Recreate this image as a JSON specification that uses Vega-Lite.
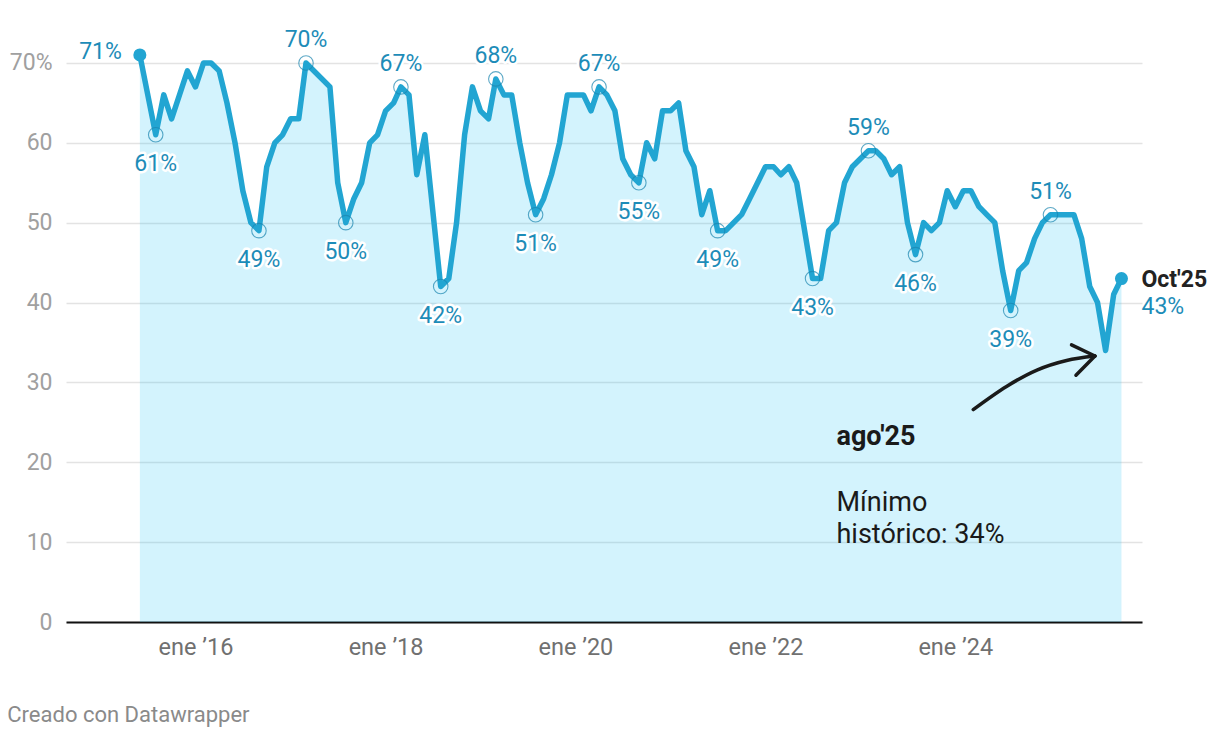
{
  "$schema": "https://vega.github.io/schema/vega-lite/v6.json",
  "autosize": "none",
  "width": 1076,
  "height": 599,
  "padding": {"left": 66, "top": 23, "right": 78, "bottom": 116},
  "background": "white",
  "config": {"view": {"stroke": null}, "font": "Roboto"},
  "title": {"text": "Creado con Datawrapper", "orient": "bottom", "anchor": "start", "frame": "bounds", "offset": 46, "fontSize": 22, "font": "Roboto", "fontWeight": "normal", "color": "#8a8a8a", "dx": -2},
  "datasets": {
    "main": [
      {"d": "2015-06-01", "v": 71, "k": "first"},
      {"d": "2015-08-01", "v": 61, "k": "min"},
      {"d": "2015-09-01", "v": 66},
      {"d": "2015-10-01", "v": 63},
      {"d": "2015-12-01", "v": 69},
      {"d": "2016-01-01", "v": 67},
      {"d": "2016-02-01", "v": 70},
      {"d": "2016-03-01", "v": 70},
      {"d": "2016-04-01", "v": 69},
      {"d": "2016-05-01", "v": 65},
      {"d": "2016-06-01", "v": 60},
      {"d": "2016-07-01", "v": 54},
      {"d": "2016-08-01", "v": 50},
      {"d": "2016-09-01", "v": 49, "k": "min"},
      {"d": "2016-10-01", "v": 57},
      {"d": "2016-11-01", "v": 60},
      {"d": "2016-12-01", "v": 61},
      {"d": "2017-01-01", "v": 63},
      {"d": "2017-02-01", "v": 63},
      {"d": "2017-03-01", "v": 70, "k": "max"},
      {"d": "2017-06-01", "v": 67},
      {"d": "2017-07-01", "v": 55},
      {"d": "2017-08-01", "v": 50, "k": "min"},
      {"d": "2017-09-01", "v": 53},
      {"d": "2017-10-01", "v": 55},
      {"d": "2017-11-01", "v": 60},
      {"d": "2017-12-01", "v": 61},
      {"d": "2018-01-01", "v": 64},
      {"d": "2018-02-01", "v": 65},
      {"d": "2018-03-01", "v": 67, "k": "max"},
      {"d": "2018-04-01", "v": 66},
      {"d": "2018-05-01", "v": 56},
      {"d": "2018-06-01", "v": 61},
      {"d": "2018-08-01", "v": 42, "k": "min"},
      {"d": "2018-09-01", "v": 43},
      {"d": "2018-10-01", "v": 50},
      {"d": "2018-11-01", "v": 61},
      {"d": "2018-12-01", "v": 67},
      {"d": "2019-01-01", "v": 64},
      {"d": "2019-02-01", "v": 63},
      {"d": "2019-03-01", "v": 68, "k": "max"},
      {"d": "2019-04-01", "v": 66},
      {"d": "2019-05-01", "v": 66},
      {"d": "2019-06-01", "v": 60},
      {"d": "2019-07-01", "v": 55},
      {"d": "2019-08-01", "v": 51, "k": "min"},
      {"d": "2019-09-01", "v": 53},
      {"d": "2019-10-01", "v": 56},
      {"d": "2019-11-01", "v": 60},
      {"d": "2019-12-01", "v": 66},
      {"d": "2020-01-01", "v": 66},
      {"d": "2020-02-01", "v": 66},
      {"d": "2020-03-01", "v": 64},
      {"d": "2020-04-01", "v": 67, "k": "max"},
      {"d": "2020-05-01", "v": 66},
      {"d": "2020-06-01", "v": 64},
      {"d": "2020-07-01", "v": 58},
      {"d": "2020-08-01", "v": 56},
      {"d": "2020-09-01", "v": 55, "k": "min"},
      {"d": "2020-10-01", "v": 60},
      {"d": "2020-11-01", "v": 58},
      {"d": "2020-12-01", "v": 64},
      {"d": "2021-01-01", "v": 64},
      {"d": "2021-02-01", "v": 65},
      {"d": "2021-03-01", "v": 59},
      {"d": "2021-04-01", "v": 57},
      {"d": "2021-05-01", "v": 51},
      {"d": "2021-06-01", "v": 54},
      {"d": "2021-07-01", "v": 49, "k": "min"},
      {"d": "2021-08-01", "v": 49},
      {"d": "2021-10-01", "v": 51},
      {"d": "2021-11-01", "v": 53},
      {"d": "2022-01-01", "v": 57},
      {"d": "2022-02-01", "v": 57},
      {"d": "2022-03-01", "v": 56},
      {"d": "2022-04-01", "v": 57},
      {"d": "2022-05-01", "v": 55},
      {"d": "2022-07-01", "v": 43, "k": "min"},
      {"d": "2022-08-01", "v": 43},
      {"d": "2022-09-01", "v": 49},
      {"d": "2022-10-01", "v": 50},
      {"d": "2022-11-01", "v": 55},
      {"d": "2022-12-01", "v": 57},
      {"d": "2023-01-01", "v": 58},
      {"d": "2023-02-01", "v": 59, "k": "max"},
      {"d": "2023-03-01", "v": 59},
      {"d": "2023-04-01", "v": 58},
      {"d": "2023-05-01", "v": 56},
      {"d": "2023-06-01", "v": 57},
      {"d": "2023-07-01", "v": 50},
      {"d": "2023-08-01", "v": 46, "k": "min"},
      {"d": "2023-09-01", "v": 50},
      {"d": "2023-10-01", "v": 49},
      {"d": "2023-11-01", "v": 50},
      {"d": "2023-12-01", "v": 54},
      {"d": "2024-01-01", "v": 52},
      {"d": "2024-02-01", "v": 54},
      {"d": "2024-03-01", "v": 54},
      {"d": "2024-04-01", "v": 52},
      {"d": "2024-05-01", "v": 51},
      {"d": "2024-06-01", "v": 50},
      {"d": "2024-07-01", "v": 44},
      {"d": "2024-08-01", "v": 39, "k": "min"},
      {"d": "2024-09-01", "v": 44},
      {"d": "2024-10-01", "v": 45},
      {"d": "2024-11-01", "v": 48},
      {"d": "2024-12-01", "v": 50},
      {"d": "2025-01-01", "v": 51, "k": "max"},
      {"d": "2025-02-01", "v": 51},
      {"d": "2025-03-01", "v": 51},
      {"d": "2025-04-01", "v": 51},
      {"d": "2025-05-01", "v": 48},
      {"d": "2025-06-01", "v": 42},
      {"d": "2025-07-01", "v": 40},
      {"d": "2025-08-01", "v": 34},
      {"d": "2025-09-01", "v": 41},
      {"d": "2025-10-01", "v": 43, "k": "last"}
    ],
    "arrow": [
      {"s": "curve", "d": "2024-03-10", "v": 26.6},
      {"s": "curve", "d": "2024-07-16", "v": 29.5},
      {"s": "curve", "d": "2024-11-10", "v": 31.55},
      {"s": "curve", "d": "2025-03-04", "v": 32.75},
      {"s": "curve", "d": "2025-06-21", "v": 33.3},
      {"s": "arm1", "d": "2025-03-23", "v": 34.7},
      {"s": "arm1", "d": "2025-06-21", "v": 33.3},
      {"s": "arm2", "d": "2025-04-09", "v": 30.9},
      {"s": "arm2", "d": "2025-06-21", "v": 33.3}
    ],
    "notes": [
      {"d": "2022-10-01", "v": 23.2, "t": "ago'25", "k": "head"},
      {"d": "2022-10-01", "v": 14.9, "t": "Mínimo", "k": "body"},
      {"d": "2022-10-01", "v": 10.9, "t": "histórico: 34%", "k": "body"}
    ]
  },
  "encoding": {
    "x": {
      "field": "d", "type": "temporal", "title": null,
      "scale": {"type": "utc", "domain": [{"year": 2014, "month": 8, "date": 21, "utc": true}, {"year": 2025, "month": 12, "date": 19, "utc": true}]},
      "axis": {
        "values": [
          {"year": 2016, "month": 1, "date": 1, "utc": true},
          {"year": 2018, "month": 1, "date": 1, "utc": true},
          {"year": 2020, "month": 1, "date": 1, "utc": true},
          {"year": 2022, "month": 1, "date": 1, "utc": true},
          {"year": 2024, "month": 1, "date": 1, "utc": true}
        ],
        "labelExpr": "'ene ’' + utcFormat(datum.value, '%y')",
        "grid": false, "ticks": false, "domain": true, "domainColor": "#111111", "domainWidth": 2,
        "labelFont": "Roboto", "labelFontSize": 23.5, "labelColor": "#707070", "labelPadding": 13
      }
    },
    "y": {
      "field": "v", "type": "quantitative", "title": null,
      "scale": {"domain": [0, 75], "nice": false, "zero": true},
      "axis": {
        "values": [0, 10, 20, 30, 40, 50, 60, 70],
        "labelExpr": "datum.value == 70 ? '70%' : datum.label",
        "grid": true, "gridColor": "#e3e3e3", "gridWidth": 1.3,
        "ticks": false, "domain": false,
        "labelFont": "Roboto", "labelFontSize": 23, "labelColor": "#a0a0a0", "labelPadding": 14
      }
    }
  },
  "layer": [
    {"data": {"name": "main"}, "mark": {"type": "area", "color": "#23c3f5", "opacity": 0.2}},
    {"data": {"name": "main"}, "mark": {"type": "line", "color": "#22a5d2", "strokeWidth": 5.5, "strokeJoin": "round", "strokeCap": "round"}},
    {"data": {"name": "main"}, "transform": [{"filter": "datum.k == 'max' || datum.k == 'min'"}],
     "mark": {"type": "point", "shape": "circle", "size": 210, "filled": false, "stroke": "#1b86b0", "strokeWidth": 1.1}},
    {"data": {"name": "main"}, "transform": [{"filter": "datum.k == 'first' || datum.k == 'last'"}],
     "mark": {"type": "point", "shape": "circle", "size": 170, "filled": true, "color": "#22a5d2", "opacity": 1}},
    {"data": {"name": "main"}, "transform": [{"filter": "datum.k == 'max'"}, {"calculate": "datum.v + '%'", "as": "lbl"}],
     "mark": {"type": "text", "dy": -23, "baseline": "middle", "align": "center", "fontSize": 23, "font": "Roboto", "fill": "white", "stroke": "white", "strokeWidth": 5, "strokeJoin": "round"},
     "encoding": {"text": {"field": "lbl"}}},
    {"data": {"name": "main"}, "transform": [{"filter": "datum.k == 'max'"}, {"calculate": "datum.v + '%'", "as": "lbl"}],
     "mark": {"type": "text", "dy": -23, "baseline": "middle", "align": "center", "fontSize": 23, "font": "Roboto", "color": "#1d8cb8"},
     "encoding": {"text": {"field": "lbl"}}},
    {"data": {"name": "main"}, "transform": [{"filter": "datum.k == 'min'"}, {"calculate": "datum.v + '%'", "as": "lbl"}],
     "mark": {"type": "text", "dy": 29, "baseline": "middle", "align": "center", "fontSize": 23, "font": "Roboto", "fill": "white", "stroke": "white", "strokeWidth": 5, "strokeJoin": "round"},
     "encoding": {"text": {"field": "lbl"}}},
    {"data": {"name": "main"}, "transform": [{"filter": "datum.k == 'min'"}, {"calculate": "datum.v + '%'", "as": "lbl"}],
     "mark": {"type": "text", "dy": 29, "baseline": "middle", "align": "center", "fontSize": 23, "font": "Roboto", "color": "#1d8cb8"},
     "encoding": {"text": {"field": "lbl"}}},
    {"data": {"name": "main"}, "transform": [{"filter": "datum.k == 'first'"}, {"calculate": "datum.v + '%'", "as": "lbl"}],
     "mark": {"type": "text", "dx": -18, "dy": -3, "baseline": "middle", "align": "right", "fontSize": 23, "font": "Roboto", "color": "#1d8cb8"},
     "encoding": {"text": {"field": "lbl"}}},
    {"data": {"name": "main"}, "transform": [{"filter": "datum.k == 'last'"}],
     "mark": {"type": "text", "dx": 20, "dy": 1, "baseline": "middle", "align": "left", "fontSize": 23, "font": "Roboto", "fontWeight": "bold", "color": "#222222", "text": "Oct'25"}},
    {"data": {"name": "main"}, "transform": [{"filter": "datum.k == 'last'"}, {"calculate": "datum.v + '%'", "as": "lbl"}],
     "mark": {"type": "text", "dx": 20, "dy": 28, "baseline": "middle", "align": "left", "fontSize": 23, "font": "Roboto", "color": "#1d8cb8"},
     "encoding": {"text": {"field": "lbl"}}},
    {"data": {"name": "arrow"},
     "mark": {"type": "line", "color": "#1a1a1a", "strokeWidth": 3.5, "interpolate": "monotone", "strokeCap": "round"},
     "encoding": {"detail": {"field": "s"}}},
    {"data": {"name": "notes"}, "transform": [{"filter": "datum.k == 'head'"}],
     "mark": {"type": "text", "align": "left", "baseline": "middle", "fontSize": 27, "font": "Roboto", "fontWeight": "bold", "color": "#1a1a1a"},
     "encoding": {"text": {"field": "t"}}},
    {"data": {"name": "notes"}, "transform": [{"filter": "datum.k == 'body'"}],
     "mark": {"type": "text", "align": "left", "baseline": "middle", "fontSize": 27, "font": "Roboto", "color": "#1a1a1a"},
     "encoding": {"text": {"field": "t"}}}
  ]
}
